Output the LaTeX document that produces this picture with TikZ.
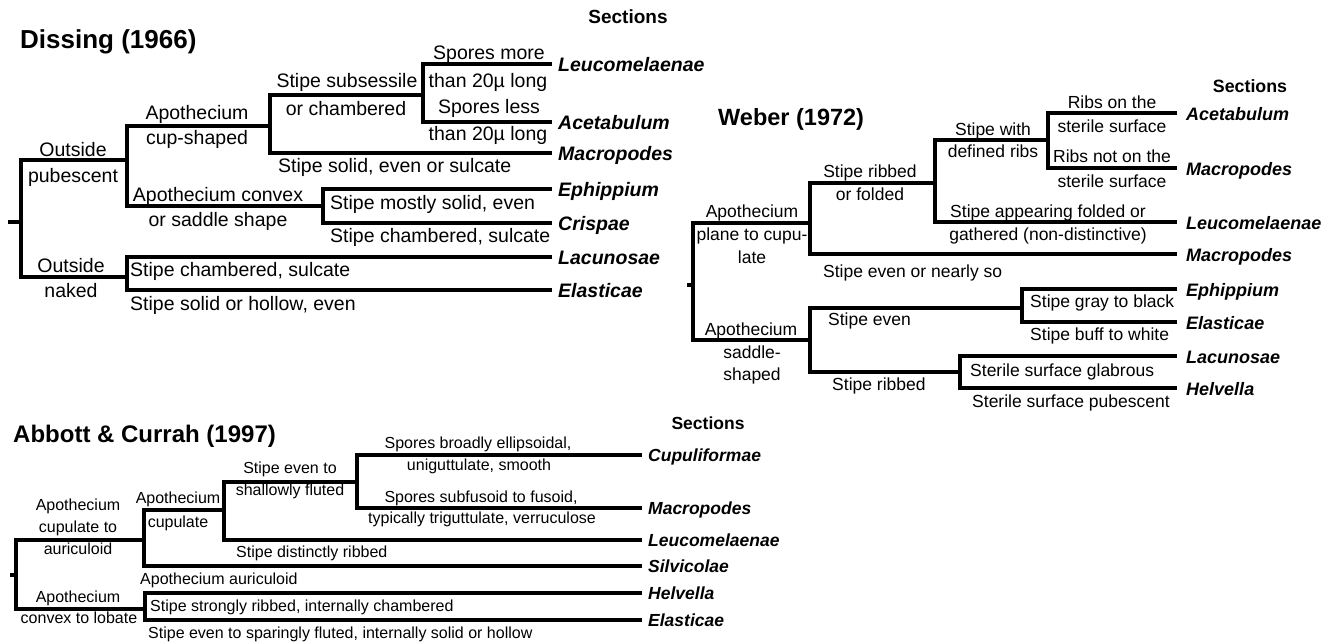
\documentclass[tikz,border=0pt]{standalone}
\usepackage{fontspec}
\setmainfont{Liberation Sans}
\newcommand\dsz{\fontsize{19.5}{23}\selectfont}
\newcommand\wsz{\fontsize{17.5}{21}\selectfont}
\newcommand\wlsz{\fontsize{18}{21}\selectfont}
\newcommand\asz{\fontsize{16}{19}\selectfont}
\newcommand\alsz{\fontsize{17.5}{21}\selectfont}
\begin{document}
\begin{tikzpicture}[x=1pt,y=-1pt,
  br/.style={line width=4pt, line join=miter, line cap=butt},
  dt/.style={anchor=base, inner sep=0pt, font=\dsz},
  dtw/.style={dt, anchor=base west},
  dl/.style={anchor=base west, inner sep=0pt, font=\dsz\bfseries\itshape},
  wt/.style={anchor=base, inner sep=0pt, font=\wsz},
  wtw/.style={wt, anchor=base west},
  wl/.style={anchor=base west, inner sep=0pt, font=\wlsz\bfseries\itshape},
  abt/.style={anchor=base, inner sep=0pt, font=\asz},
  abtw/.style={abt, anchor=base west},
  abl/.style={anchor=base west, inner sep=0pt, font=\alsz\bfseries\itshape},
  ttl/.style={anchor=base west, inner sep=0pt},
  sec/.style={anchor=base, inner sep=0pt}]
\useasboundingbox (0,0) rectangle (1327,643);
\clip (0,0) rectangle (1327,643);

% ================= Dissing (1966) =================
\node[ttl, font=\fontsize{26}{30}\selectfont\bfseries] (dTitle) at (20,48) {Dissing (1966)};
\node[sec, font=\fontsize{19}{22}\selectfont\bfseries] (dSec) at (628,23) {Sections};

\coordinate (dstub) at (8,222);
\coordinate (d0) at (21,222);
\coordinate (dpub) at (127,160);
\coordinate (dnak) at (127,277);
\coordinate (dcup) at (270,126);
\coordinate (dcvx) at (323,206);
\coordinate (dsub) at (423,95);
\coordinate (dLeu) at (552,64);
\coordinate (dAce) at (552,122);
\coordinate (dMac) at (552,153);
\coordinate (dEph) at (552,189);
\coordinate (dCri) at (552,223);
\coordinate (dLac) at (552,257);
\coordinate (dEla) at (552,290);

\draw[br] (dstub) -- (d0);
\draw[br] (dpub) -- (d0 |- dpub) -- (d0 |- dnak) -- (dnak);
\draw[br] (dcup) -- (dpub |- dcup) -- (dpub |- dcvx) -- (dcvx);
\draw[br] (dsub) -- (dcup |- dsub) -- (dcup |- dMac) -- (dMac);
\draw[br] (dLeu) -- (dsub |- dLeu) -- (dsub |- dAce) -- (dAce);
\draw[br] (dEph) -- (dcvx |- dEph) -- (dcvx |- dCri) -- (dCri);
\draw[br] (dLac) -- (dnak |- dLac) -- (dnak |- dEla) -- (dEla);

\node[dt] (dt1) at (73,156) {Outside};
\node[dt] (dt2) at (73,182) {pubescent};
\node[dt] (dt3) at (71,272) {Outside};
\node[dt] (dt4) at (71,297) {naked};
\node[dt] (dt5) at (197,119) {Apothecium};
\node[dt] (dt6) at (197,144) {cup-shaped};
\node[dt] (dt7) at (218,201) {Apothecium convex};
\node[dt] (dt8) at (218,226) {or saddle shape};
\node[dt] (dt9) at (347,87) {Stipe subsessile};
\node[dt] (dt10) at (346,115) {or chambered};
\node[dtw] (dt11) at (278,172) {Stipe solid, even or sulcate};
\node[dt] (dt12) at (489,59) {Spores more};
\node[dt] (dt13) at (488,87) {than 20µ long};
\node[dt] (dt14) at (489,113) {Spores less};
\node[dt] (dt15) at (488,140) {than 20µ long};
\node[dtw] (dt16) at (330,209) {Stipe mostly solid, even};
\node[dtw] (dt17) at (330,242) {Stipe chambered, sulcate};
\node[dtw] (dt18) at (130,276) {Stipe chambered, sulcate};
\node[dtw] (dt19) at (130,310) {Stipe solid or hollow, even};

\node[dl] (dlLeu) at (558,71) {Leucomelaenae};
\node[dl] (dlAce) at (558,129) {Acetabulum};
\node[dl] (dlMac) at (558,160) {Macropodes};
\node[dl] (dlEph) at (558,196) {Ephippium};
\node[dl] (dlCri) at (558,230) {Crispae};
\node[dl] (dlLac) at (558,264) {Lacunosae};
\node[dl] (dlEla) at (558,297) {Elasticae};

% ================= Weber (1972) =================
\node[ttl, font=\fontsize{23.5}{27}\selectfont\bfseries] (wTitle) at (718,125) {Weber (1972)};
\node[sec, font=\fontsize{17.8}{21}\selectfont\bfseries] (wSec) at (1250,92) {Sections};

\coordinate (wstub) at (687,285);
\coordinate (w0) at (693,285);
\coordinate (wpla) at (810,223);
\coordinate (wsad) at (810,340);
\coordinate (wrib) at (935,183);
\coordinate (wwth) at (1048,140);
\coordinate (wsev) at (1022,308);
\coordinate (wsrb) at (960,372);
\coordinate (wAce) at (1177,113);
\coordinate (wMac1) at (1177,168);
\coordinate (wLeu) at (1177,222);
\coordinate (wMac2) at (1177,254);
\coordinate (wEph) at (1177,289);
\coordinate (wEla) at (1177,322);
\coordinate (wLac) at (1177,356);
\coordinate (wHel) at (1177,388);

\draw[br] (wstub) -- (w0);
\draw[br] (wpla) -- (w0 |- wpla) -- (w0 |- wsad) -- (wsad);
\draw[br] (wrib) -- (wpla |- wrib) -- (wpla |- wMac2) -- (wMac2);
\draw[br] (wwth) -- (wrib |- wwth) -- (wrib |- wLeu) -- (wLeu);
\draw[br] (wAce) -- (wwth |- wAce) -- (wwth |- wMac1) -- (wMac1);
\draw[br] (wsev) -- (wsad |- wsev) -- (wsad |- wsrb) -- (wsrb);
\draw[br] (wEph) -- (wsev |- wEph) -- (wsev |- wEla) -- (wEla);
\draw[br] (wLac) -- (wsrb |- wLac) -- (wsrb |- wHel) -- (wHel);

\node[wt] (wt1) at (752,217) {Apothecium};
\node[wt] (wt2) at (752,240) {plane to cupu-};
\node[wt] (wt3) at (752,263) {late};
\node[wt] (wt4) at (751,335) {Apothecium};
\node[wt] (wt5) at (752,358) {saddle-};
\node[wt] (wt6) at (752,380) {shaped};
\node[wt] (wt7) at (870,177) {Stipe ribbed};
\node[wt] (wt8) at (870,200) {or folded};
\node[wt] (wt9) at (993,135) {Stipe with};
\node[wt] (wt10) at (993,157) {defined ribs};
\node[wt] (wt11) at (1112,108) {Ribs on the};
\node[wt] (wt12) at (1112,132) {sterile surface};
\node[wt] (wt13) at (1112,162) {Ribs not on the};
\node[wt] (wt14) at (1112,187) {sterile surface};
\node[wt] (wt15) at (1048,217) {Stipe appearing folded or};
\node[wt] (wt16) at (1048,240) {gathered (non-distinctive)};
\node[wtw] (wt17) at (823,277) {Stipe even or nearly so};
\node[wtw] (wt18) at (828,325) {Stipe even};
\node[wtw] (wt19) at (832,390) {Stipe ribbed};
\node[wtw] (wt20) at (1030,307) {Stipe gray to black};
\node[wtw] (wt21) at (1030,340) {Stipe buff to white};
\node[wtw] (wt22) at (970,376) {Sterile surface glabrous};
\node[wtw] (wt23) at (972,407) {Sterile surface pubescent};

\node[wl] (wlAce) at (1186,120) {Acetabulum};
\node[wl] (wlMac1) at (1186,175) {Macropodes};
\node[wl] (wlLeu) at (1186,229) {Leucomelaenae};
\node[wl] (wlMac2) at (1186,261) {Macropodes};
\node[wl] (wlEph) at (1186,296) {Ephippium};
\node[wl] (wlEla) at (1186,329) {Elasticae};
\node[wl] (wlLac) at (1186,363) {Lacunosae};
\node[wl] (wlHel) at (1186,395) {Helvella};

% ================= Abbott & Currah (1997) =================
\node[ttl, font=\fontsize{24}{28}\selectfont\bfseries] (aTitle) at (13,442) {Abbott \& Currah (1997)};
\node[sec, font=\fontsize{17.5}{21}\selectfont\bfseries] (aSec) at (708,429) {Sections};

\coordinate (astub) at (10,575);
\coordinate (a0) at (16,575);
\coordinate (acta) at (144,540);
\coordinate (acvx) at (145,609);
\coordinate (acup) at (224,510);
\coordinate (aevn) at (357,482);
\coordinate (aCup) at (642,455);
\coordinate (aMac) at (642,508);
\coordinate (aLeu) at (642,540);
\coordinate (aSil) at (642,566);
\coordinate (aHel) at (642,593);
\coordinate (aEla) at (642,620);

\draw[br] (astub) -- (a0);
\draw[br] (acta) -- (a0 |- acta) -- (a0 |- acvx) -- (acvx);
\draw[br] (acup) -- (acta |- acup) -- (acta |- aSil) -- (aSil);
\draw[br] (aevn) -- (acup |- aevn) -- (acup |- aLeu) -- (aLeu);
\draw[br] (aCup) -- (aevn |- aCup) -- (aevn |- aMac) -- (aMac);
\draw[br] (aHel) -- (acvx |- aHel) -- (acvx |- aEla) -- (aEla);

\node[abt] (at1) at (78,510) {Apothecium};
\node[abt] (at2) at (78,532) {cupulate to};
\node[abt] (at3) at (78,554) {auriculoid};
\node[abt] (at4) at (78,602) {Apothecium};
\node[abt] (at5) at (79,623) {convex to lobate};
\node[abt] (at6) at (178,503) {Apothecium};
\node[abt] (at7) at (178,527) {cupulate};
\node[abt] (at8) at (290,473) {Stipe even to};
\node[abt] (at9) at (290,495) {shallowly fluted};
\node[abt] (at10) at (478,448) {Spores broadly ellipsoidal,};
\node[abt] (at11) at (479,470) {uniguttulate, smooth};
\node[abt] (at12) at (481,502) {Spores subfusoid to fusoid,};
\node[abt] (at13) at (482,523) {typically triguttulate, verruculose};
\node[abtw] (at14) at (236,557) {Stipe distinctly ribbed};
\node[abtw] (at15) at (140,584) {Apothecium auriculoid};
\node[abtw] (at16) at (150,611) {Stipe strongly ribbed, internally chambered};
\node[abtw] (at17) at (148,638) {Stipe even to sparingly fluted, internally solid or hollow};

\node[abl] (alCup) at (648,461) {Cupuliformae};
\node[abl] (alMac) at (648,514) {Macropodes};
\node[abl] (alLeu) at (648,546) {Leucomelaenae};
\node[abl] (alSil) at (648,572) {Silvicolae};
\node[abl] (alHel) at (648,599) {Helvella};
\node[abl] (alEla) at (648,626) {Elasticae};
\end{tikzpicture}
\end{document}
